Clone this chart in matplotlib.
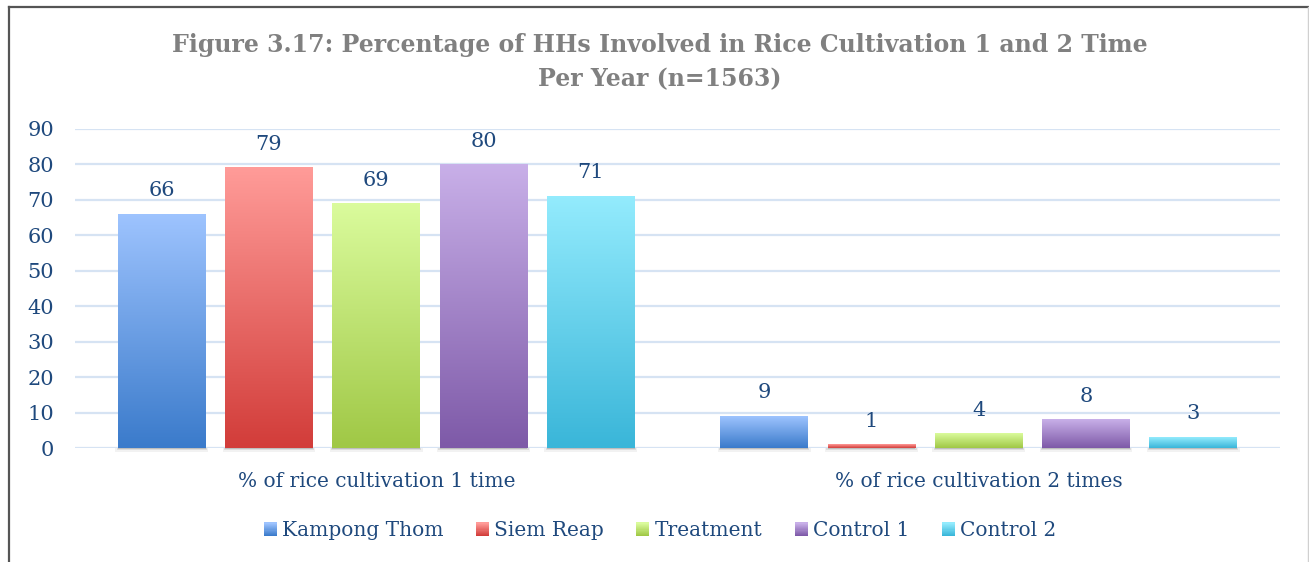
import matplotlib
matplotlib.use("Agg")
import matplotlib.pyplot as plt
import numpy as np
from matplotlib.colors import to_rgb
from matplotlib.patches import Rectangle
from matplotlib.legend_handler import HandlerBase

categories = ["% of rice cultivation 1 time", "% of rice cultivation 2 times"]
series = ["Kampong Thom", "Siem Reap", "Treatment", "Control 1", "Control 2"]
values = {
    "Kampong Thom": [66, 9],
    "Siem Reap": [79, 1],
    "Treatment": [69, 4],
    "Control 1": [80, 8],
    "Control 2": [71, 3],
}
yticks = [0, 10, 20, 30, 40, 50, 60, 70, 80, 90]
title = "Figure 3.17: Percentage of HHs Involved in Rice Cultivation 1 and 2 Time\nPer Year (n=1563)"

grad = {
    "Kampong Thom": ("#9DC3FE", "#3B7BCB"),
    "Siem Reap": ("#FF9B98", "#D23D3A"),
    "Treatment": ("#DAFB9C", "#A0C846"),
    "Control 1": ("#C8AFE8", "#7E5AA8"),
    "Control 2": ("#93EBFD", "#3AB6D9"),
}
TXT = "#1F497D"
FS = 14.5
plt.rcParams["font.family"] = ["DejaVu Serif"]

W, H = 1309, 562
fig = plt.figure(figsize=(W / 100, H / 100), dpi=100)
fig.patch.set_facecolor("white")

# outer border
fig.add_artist(plt.Line2D([9 / W, 9 / W], [0, 1 - 7 / H], color="#555555", lw=1.6))
fig.add_artist(plt.Line2D([9 / W, 1], [1 - 7 / H, 1 - 7 / H], color="#555555", lw=1.6))
fig.add_artist(plt.Line2D([1307.5 / W, 1307.5 / W], [0, 1 - 7 / H], color="#D0D0D0", lw=1.0))

ax = fig.add_axes([75 / W, 1 - 448 / H, (1280 - 75) / W, (448 - 129) / H])
ax.set_xlim(-0.5, 1.5)
ax.set_ylim(0, 90)
for s in ax.spines.values():
    s.set_visible(False)
ax.set_yticks(yticks)
ax.set_yticklabels([str(t) for t in yticks], fontsize=FS + 0.5, color=TXT)
ax.tick_params(axis="y", length=0, pad=15)
ax.set_xticks(range(len(categories)))
ax.set_xticklabels(categories, fontsize=FS, color=TXT)
ax.tick_params(axis="x", length=0, pad=17)
ax.grid(axis="y", color="#D6E3F3", lw=1.6, zorder=0)
ax.set_axisbelow(True)

n = len(series)
width = 0.146
step = 0.178
x = np.arange(len(categories))

def gradient_img(top, bot, N=64):
    t = np.linspace(0, 1, N)[:, None]
    a = np.array(to_rgb(top))
    b = np.array(to_rgb(bot))
    return (a * (1 - t) + b * t).reshape(N, 1, 3)

for i, s in enumerate(series):
    top, bot = grad[s]
    xs = x + (i - (n - 1) / 2) * step
    bars = ax.bar(xs, values[s], width=width, color="none", zorder=2)
    for rect, v in zip(bars, values[s]):
        x0 = rect.get_x()
        ax.imshow(gradient_img(top, bot), extent=(x0, x0 + width, 0, v),
                  aspect="auto", origin="upper", zorder=3, interpolation="bilinear")
        # shadow
        for k, (al, dy) in enumerate([(0.35, 0.35), (0.2, 0.7), (0.1, 1.0)]):
            ax.add_patch(Rectangle((x0 - 0.002 * k, -dy), width + 0.004 * k, dy,
                                   color="#888888", alpha=al, lw=0, clip_on=False, zorder=1))
        ax.annotate(str(v), (x0 + width / 2, v), xytext=(0, 10), textcoords="offset points",
                    ha="center", va="bottom", fontsize=FS + 0.5, color=TXT)

ax.set_xlim(-0.5, 1.5)
ax.set_ylim(0, 90)

fig.text(660 / W, 1 - 62 / H, title, ha="center", va="center", fontsize=17,
         fontweight="bold", color="#808080", linespacing=1.5)

class GradHandler(HandlerBase):
    def __init__(self, top, bot):
        super().__init__()
        self.top, self.bot = top, bot
    def create_artists(self, legend, orig_handle, xdescent, ydescent, width, height, fontsize, trans):
        arts = []
        N = 12
        a = np.array(to_rgb(self.top)); b = np.array(to_rgb(self.bot))
        w = 9.4; h = 10.0
        x0 = width - w
        y0 = (height - h) / 2 - ydescent
        for k in range(N):
            t = k / (N - 1)
            c = b * (1 - t) + a * t
            r = Rectangle((x0, y0 + h * k / N), w, h / N + 0.05, facecolor=c, lw=0, transform=trans)
            arts.append(r)
        return arts

handles = [Rectangle((0, 0), 1, 1) for _ in series]
hmap = {h: GradHandler(*grad[s]) for h, s in zip(handles, series)}
leg = fig.legend(handles, series, handler_map=hmap, loc="center", bbox_to_anchor=(660 / W, 1 - 531 / H),
                 ncol=5, frameon=False, fontsize=FS, handlelength=0.65, handletextpad=0.25,
                 columnspacing=1.62)
for t in leg.get_texts():
    t.set_color(TXT)

fig.savefig("out.png", dpi=100, facecolor="white")
